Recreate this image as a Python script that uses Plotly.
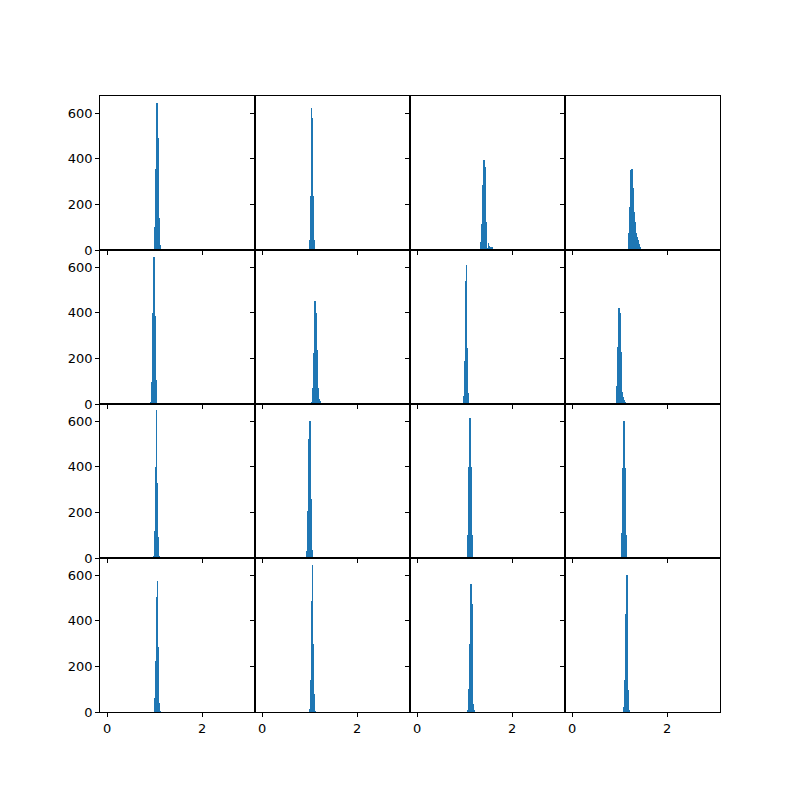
import plotly.graph_objects as go
from plotly.subplots import make_subplots

BIN_WIDTH = 0.021

# Left edge of the first bin for each panel (row-major order)
bin_starts = [
    0.996, 0.968, 1.326, 1.158,
    0.905, 1.032, 0.947, 0.905,
    0.968, 0.941, 1.032, 1.011,
    0.989, 0.989, 1.053, 1.074,
]

# Histogram counts for each panel (row-major order)
counts_r1c1 = [100, 356, 645, 492, 140, 22, 3]
counts_r1c2 = [3, 44, 236, 622, 578, 236, 44, 2]
counts_r1c3 = [35, 114, 285, 394, 365, 212, 124, 8, 32, 19, 13, 13, 11]
counts_r1c4 = [3, 76, 190, 350, 355, 272, 168, 124, 76, 58, 44, 26, 15, 7, 3]
counts_r2c1 = [8, 95, 400, 645, 385, 105, 8]
counts_r2c2 = [7, 68, 222, 450, 400, 236, 72, 22, 15, 3]
counts_r2c3 = [3, 35, 188, 540, 610, 247, 50, 3]
counts_r2c4 = [4, 79, 251, 420, 400, 229, 108, 54, 32, 18, 9, 3]
counts_r3c1 = [10, 117, 400, 650, 330, 90, 8]
counts_r3c2 = [32, 206, 520, 600, 258, 35, 3]
counts_r3c3 = [4, 100, 400, 615, 400, 100, 4]
counts_r3c4 = [4, 111, 396, 600, 396, 100, 4]
counts_r4c1 = [61, 225, 505, 575, 285, 40, 4]
counts_r4c2 = [15, 140, 487, 644, 298, 79, 4]
counts_r4c3 = [8, 101, 298, 560, 473, 35, 5]
counts_r4c4 = [20, 140, 429, 600, 96, 10]

all_counts = [
    counts_r1c1, counts_r1c2, counts_r1c3, counts_r1c4,
    counts_r2c1, counts_r2c2, counts_r2c3, counts_r2c4,
    counts_r3c1, counts_r3c2, counts_r3c3, counts_r3c4,
    counts_r4c1, counts_r4c2, counts_r4c3, counts_r4c4,
]

x_ticks = [0, 2]
y_ticks = [0, 200, 400, 600]

fig = make_subplots(rows=4, cols=4, shared_xaxes=True, shared_yaxes=True,
                    horizontal_spacing=0, vertical_spacing=0)

for k, (start, counts) in enumerate(zip(bin_starts, all_counts)):
    r, c = k // 4 + 1, k % 4 + 1
    centers = [start + (i + 0.5) * BIN_WIDTH for i in range(len(counts))]
    fig.add_trace(go.Bar(x=centers, y=counts, width=[BIN_WIDTH] * len(counts),
                         marker=dict(color="#1f77b4", line=dict(width=0)),
                         showlegend=False, hoverinfo="skip"), row=r, col=c)

fig.update_xaxes(range=[-0.148, 3.115], tickvals=x_ticks, ticks="outside",
                 ticklen=4, tickwidth=0.8, tickcolor="black", showline=True,
                 linecolor="black", linewidth=0.8, mirror=True, showgrid=False,
                 zeroline=False, tickfont=dict(family="DejaVu Sans", size=13, color="black"))
fig.update_yaxes(range=[0, 675], tickvals=y_ticks, ticks="outside",
                 ticklen=4, tickwidth=0.8, tickcolor="black", showline=True,
                 linecolor="black", linewidth=0.8, mirror=True, showgrid=False,
                 zeroline=False, tickfont=dict(family="DejaVu Sans", size=13, color="black"))

fig.update_layout(width=800, height=800, plot_bgcolor="white", paper_bgcolor="white",
                  margin=dict(l=92, r=88, t=88, b=96), bargap=0,
                  font=dict(family="DejaVu Sans", size=13, color="black"))

fig.write_html("out.html")
